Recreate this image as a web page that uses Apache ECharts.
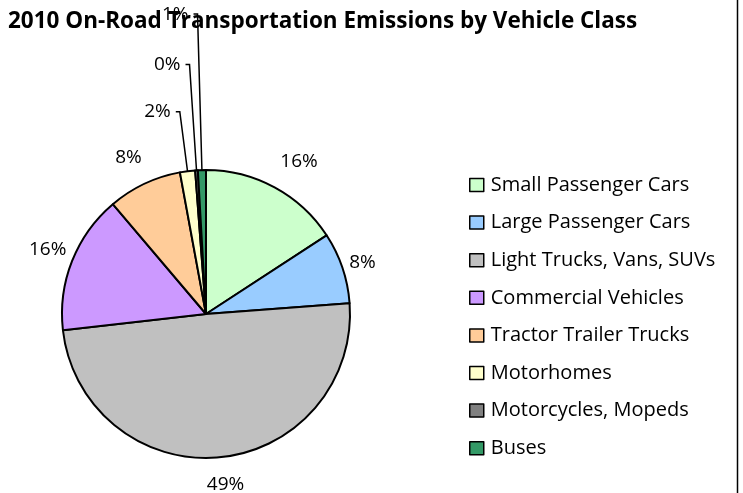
<!DOCTYPE html>
<html>
<head>
<meta charset="utf-8">
<script src="https://cdn.jsdelivr.net/npm/echarts@6/dist/echarts.min.js"></script>
<style>
  html, body { margin: 0; padding: 0; background: #fff; }
  #chart { width: 743px; height: 493px; }
</style>
</head>
<body>
<div id="chart"></div>
<script>
// vehicle classes, clockwise from 12 o'clock
const categories = [
  'Small Passenger Cars',
  'Large Passenger Cars',
  'Light Trucks, Vans, SUVs',
  'Commercial Vehicles',
  'Tractor Trailer Trucks',
  'Motorhomes',
  'Motorcycles, Mopeds',
  'Buses'
]
// share of emissions, percent (labels are rounded)
const shares = [15.8, 8.0, 49.4, 15.6, 8.3, 1.7, 0.3, 0.9]
const colors = ['#CCFFCC', '#99CCFF', '#C0C0C0', '#CC99FF', '#FFCC99', '#FFFFCC', '#808080', '#339966']

// label placement per slice: [length, length2, leader visible, nudge x, nudge y]
const leaders = [
  [10, 0, false, -4, -17],
  [4, 0, false, -2, -4],
  [14, 0, false, -19, 13],
  [4, 0, false, 3, -10],
  [6, 0, false, 5, -21],
  [60, 4, true, 0, 0],
  [106, 4, true, 0, 0],
  [156, 4, true, 0, 0]
]

const font = '"Open Sans", Lato, sans-serif'
const chart = echarts.init(document.getElementById('chart'))

const data = categories.map((name, i) => ({
  name,
  value: shares[i],
  itemStyle: { color: colors[i] },
  labelLine: {
    show: leaders[i][2],
    length: leaders[i][0],
    length2: leaders[i][1],
    lineStyle: { color: '#000', width: 1.5 }
  }
}))

chart.setOption({
  animation: false,
  backgroundColor: '#fff',
  title: {
    text: '2010 On-Road Transportation Emissions by Vehicle Class',
    left: 3,
    top: 5,
    textStyle: { fontFamily: font, fontWeight: 'bold', fontSize: 22.5, color: '#000' }
  },
  legend: {
    orient: 'vertical',
    left: 469,
    top: 175,
    padding: 0,
    icon: 'rect',
    itemWidth: 14,
    itemHeight: 13,
    itemGap: 17.6,
    itemStyle: { borderColor: '#000', borderWidth: 1.5 },
    textStyle: { fontFamily: font, fontSize: 20, color: '#000', lineHeight: 20, padding: [0, 0, 0, 2] },
    data: categories
  },
  graphic: [{
    type: 'line',
    shape: { x1: 737.5, y1: 0, x2: 737.5, y2: 493 },
    style: { stroke: '#000', lineWidth: 1.5 }
  }],
  series: [{
    type: 'pie',
    center: [206, 314],
    radius: 144,
    startAngle: 90,
    clockwise: true,
    avoidLabelOverlap: false,
    itemStyle: { borderColor: '#000', borderWidth: 2 },
    label: {
      show: true,
      position: 'outside',
      fontFamily: font,
      fontSize: 19,
      color: '#000',
      formatter: p => Math.round(p.value) + '%'
    },
    labelLayout: p => {
      const l = leaders[p.dataIndex]
      return (l[3] || l[4]) ? { dx: l[3], dy: l[4] } : {}
    },
    emphasis: { disabled: true },
    data
  }]
})
</script>
</body>
</html>
